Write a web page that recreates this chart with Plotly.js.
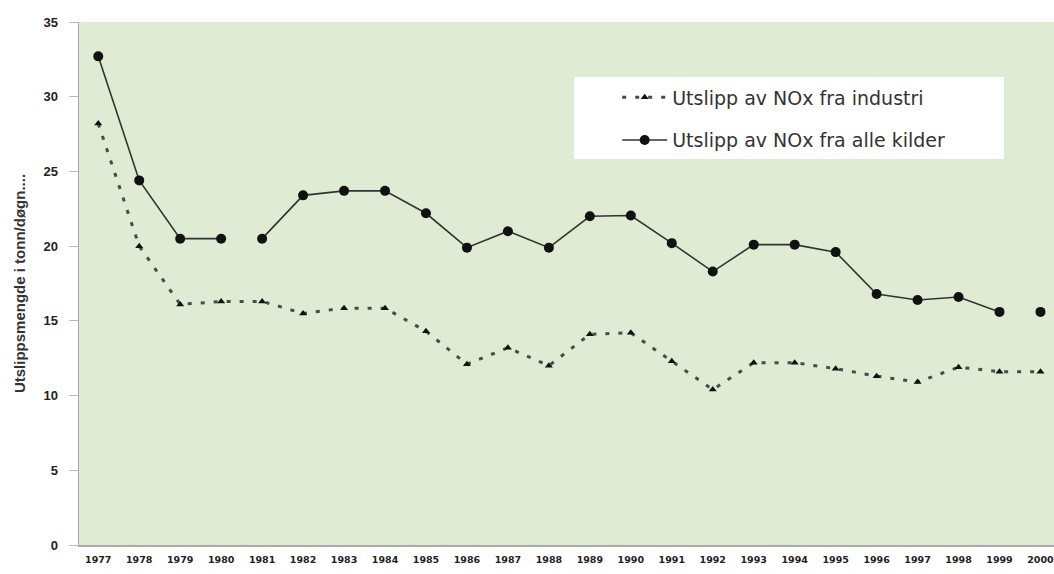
<!DOCTYPE html>
<html>
<head>
<meta charset="utf-8">
<script src="https://cdn.plot.ly/plotly-3.0.1.min.js"></script>
<style>html,body{margin:0;padding:0;background:#fff;overflow:hidden}</style>
</head>
<body>
<div id="chart" style="width:1054px;height:574px"></div>
<script>
const years = [1977,1978,1979,1980,1981,1982,1983,1984,1985,1986,1987,1988,1989,1990,1991,1992,1993,1994,1995,1996,1997,1998,1999,2000];
const industry = [28.2,20.0,16.1,16.3,16.3,15.5,15.85,15.85,14.3,12.1,13.2,12.0,14.1,14.2,12.3,10.4,12.2,12.2,11.8,11.3,10.9,11.9,11.6,11.6];
const allSources = [32.7,24.4,20.5,20.5,20.5,23.4,23.7,23.7,22.2,19.9,21.0,19.9,22.0,22.05,20.2,18.3,20.1,20.1,19.6,16.8,16.4,16.6,15.6,15.6];
const allSourcesBreaksAfter = [1980,1999];
const industryName = "Utslipp av NOx fra industri";
const allName = "Utslipp av NOx fra alle kilder";
const yTitle = "Utslippsmengde i tonn/døgn....";

// insert nulls where the source line is broken
const ax = [], ay = [];
years.forEach((yr,i)=>{
  ax.push(yr); ay.push(allSources[i]);
  if (allSourcesBreaksAfter.includes(yr)) { ax.push(yr+0.5); ay.push(null); }
});

const traces = [
  {x: years, y: industry, name: industryName, type:'scatter', mode:'lines+markers',
   legendgroup:'a',
   line:{color:'#4a4a4a', width:3, dash:'4px,9px'},
   marker:{symbol:'triangle-up', size:7, color:'#111'}},
  {x: ax, y: ay, name: allName, type:'scatter', mode:'lines+markers',
   legendgroup:'b', connectgaps:false,
   line:{color:'#333', width:1.6},
   marker:{symbol:'circle', size:10, color:'#111'}}
];

const layout = {
  width:1054, height:574,
  margin:{l:79, r:0, t:22, b:29},
  paper_bgcolor:'#ffffff',
  plot_bgcolor:'#dfebd2',
  font:{family:'Liberation Sans, Arial, sans-serif', color:'#222'},
  showlegend:true,
  shapes:[{type:'rect', xref:'paper', yref:'paper', x0:0.5077, x1:0.9487, y0:0.738, y1:0.8948,
    fillcolor:'#ffffff', line:{width:0}, layer:'below'}],
  legend:{x:0.552, y:0.892, xanchor:'left', yanchor:'top',
    bgcolor:'rgba(0,0,0,0)', borderwidth:0,
    font:{size:19, color:'#333', family:'DejaVu Sans, sans-serif'}, tracegroupgap:15,
    itemwidth:45},
  xaxis:{range:[1976.53, 2000.33], tickvals: years, ticktext: years.map(String),
    showgrid:false, zeroline:false, showline:true, linecolor:'#aaa', linewidth:1.5,
    ticks:'', ticklabelstandoff:5, ticklabeloverflow:'allow',
    tickfont:{size:9.5, color:'#222', family:'DejaVu Sans, sans-serif', weight:'bold'},
    fixedrange:true},
  yaxis:{range:[0,35], dtick:5, showgrid:false, zeroline:false, showline:true,
    linecolor:'#aaa', linewidth:1.5, ticks:'outside', ticklen:9, tickcolor:'#bbb',
    ticklabelstandoff:8,
    tickfont:{size:13, color:'#222', family:'Liberation Sans, Arial, sans-serif', weight:'bold'},
    title:{text:yTitle, standoff:14, font:{size:15, color:'#333', weight:'bold'}},
    fixedrange:true}
};

Plotly.newPlot('chart', traces, layout, {displayModeBar:false, staticPlot:true});
</script>
</body>
</html>
